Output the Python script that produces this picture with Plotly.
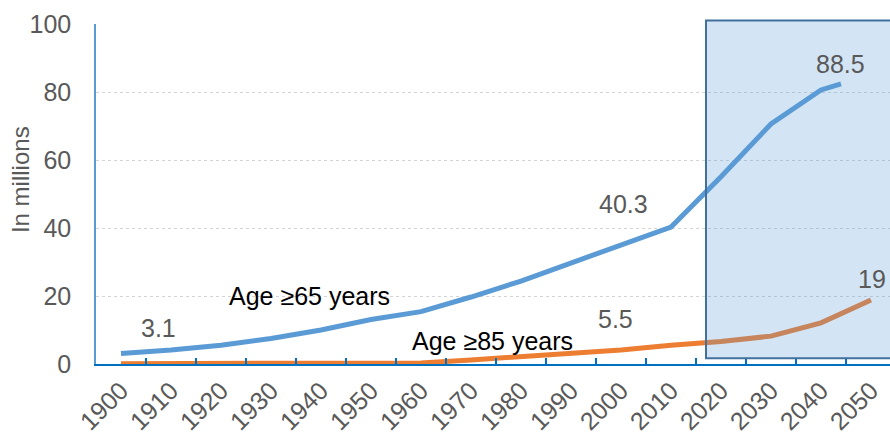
import plotly.graph_objects as go

# ---- data ----
decades = [1900, 1910, 1920, 1930, 1940, 1950, 1960, 1970, 1980, 1990,
           2000, 2010, 2020, 2030, 2040, 2050]
tick_labels = [str(d) for d in decades]

# Age >= 65 (line in the picture stops a little past 2040)
years_65 = [1900, 1910, 1920, 1930, 1940, 1950, 1960, 1970, 1980, 1990,
            2000, 2010, 2020, 2030, 2040, 2044]
pop_65 = [3.1, 4.1, 5.5, 7.5, 10.0, 13.1, 15.4, 19.7, 24.4, 29.7,
          35.0, 40.3, 55.1, 70.6, 80.6, 82.4]

# Age >= 85
years_85 = decades
pop_85 = [0.1, 0.1, 0.1, 0.1, 0.1, 0.2, 0.3, 1.2, 2.1, 3.1,
          4.1, 5.5, 6.6, 8.2, 12.1, 18.8]

y_ticks = [0, 20, 40, 60, 80, 100]
boundaries = [d - 5 for d in decades] + [2055]

# labels: (text, x-year, y-value, colour, anchor)
labels = [
    ("Age ≥65 years", 1921.2, 19.9, "#000000", "left"),
    ("Age ≥85 years", 1957.8, 6.9, "#000000", "left"),
    ("3.1", 1907.5, 10.6, "#595959", "center"),
    ("40.3", 2000.5, 47.2, "#595959", "center"),
    ("5.5", 1998.9, 13.1, "#595959", "center"),
    ("88.5", 2043.8, 88.1, "#595959", "center"),
    ("19", 2050.1, 24.9, "#595959", "center"),
]

FONT = "Liberation Sans, Arial, sans-serif"
BLUE = "#5b9bd5"
ORANGE = "#ed7d31"
AXBLUE = "#0070c0"

fig = go.Figure()
fig.add_trace(go.Scatter(x=years_85, y=pop_85, mode="lines",
                         line=dict(color=ORANGE, width=5), hoverinfo="skip"))
fig.add_trace(go.Scatter(x=years_65, y=pop_65, mode="lines",
                         line=dict(color=BLUE, width=5), hoverinfo="skip"))
# invisible trace to activate the tick-mark axis
fig.add_trace(go.Scatter(x=[1900], y=[0], xaxis="x2", mode="markers",
                         marker=dict(opacity=0), hoverinfo="skip"))

for text, xv, yv, col, anchor in labels:
    fig.add_annotation(x=xv, y=yv, xref="x", yref="y", text=text,
                       showarrow=False, xanchor=anchor, yanchor="middle",
                       font=dict(family=FONT, size=25, color=col))

fig.add_annotation(x=-0.0957, y=0.541, xref="paper", yref="paper",
                   text="In millions", textangle=-90, showarrow=False,
                   xanchor="center", yanchor="middle",
                   font=dict(family=FONT, size=24, color="#595959"))

# projection shading
fig.add_shape(type="rect", xref="x", yref="y domain",
              x0=2017.0, x1=2070, y0=0.017, y1=1.01,
              fillcolor="rgba(91,155,213,0.27)",
              line=dict(color="#41719c", width=2), layer="above")

XR = [1895, 1895 + (890 - 96) / 5]
fig.update_layout(
    width=890, height=434,
    margin=dict(l=96, r=0, t=24, b=70, autoexpand=False),
    paper_bgcolor="white", plot_bgcolor="white",
    showlegend=False,
    xaxis=dict(range=XR, tickmode="array", tickvals=decades, ticktext=tick_labels,
               tickangle=-45, ticks="", showline=True, linecolor=AXBLUE, linewidth=2,
               showgrid=False, zeroline=False, ticklabelstandoff=0, automargin=False,
               tickfont=dict(family=FONT, size=25, color="#595959")),
    xaxis2=dict(range=XR, overlaying="x", anchor="y", side="bottom",
                tickmode="array", tickvals=boundaries, ticks="inside", ticklen=6,
                tickwidth=2, tickcolor=AXBLUE, showticklabels=False, automargin=False,
                showgrid=False, zeroline=False, showline=False),
    yaxis=dict(range=[0, 100], tickmode="array", tickvals=y_ticks, automargin=False,
               showline=True, linecolor=BLUE, linewidth=1.5,
               showgrid=True, gridcolor="#d4d4d4", griddash="dot", gridwidth=1,
               zeroline=False, ticks="", ticklabelstandoff=18,
               tickfont=dict(family=FONT, size=25, color="#595959")),
)

fig.write_html("out.html")
